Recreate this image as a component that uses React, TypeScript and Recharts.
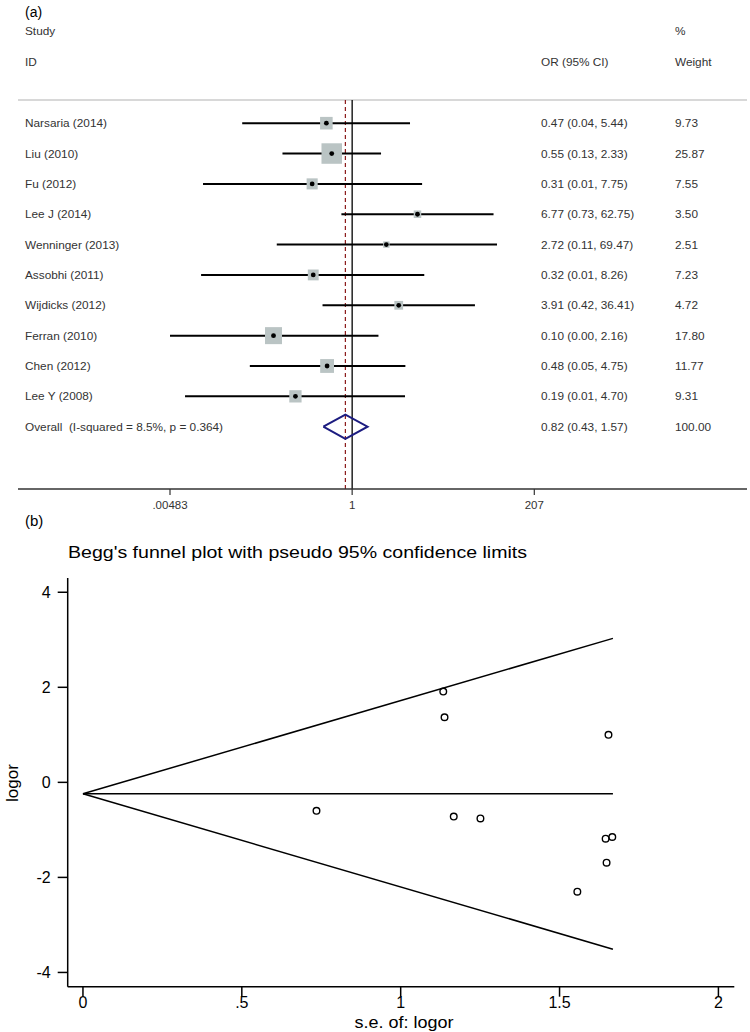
import React from 'react';
import { ScatterChart, Scatter, XAxis, YAxis, ErrorBar, ReferenceLine } from 'recharts';

// (a) forest plot
const studies = ['Narsaria (2014)', 'Liu (2010)', 'Fu (2012)', 'Lee J (2014)', 'Wenninger (2013)', 'Assobhi (2011)', 'Wijdicks (2012)', 'Ferran (2010)', 'Chen (2012)', 'Lee Y (2008)'];
const oddsRatio = [0.47, 0.55, 0.31, 6.77, 2.72, 0.32, 3.91, 0.1, 0.48, 0.19];
const ciLow = [0.04, 0.13, 0.0127, 0.73, 0.11, 0.012, 0.42, 0.00483, 0.05, 0.0075];
const ciHigh = [5.44, 2.33, 7.75, 62.75, 69.47, 8.26, 36.41, 2.16, 4.75, 4.7];
const weights = [9.73, 25.87, 7.55, 3.5, 2.51, 7.23, 4.72, 17.8, 11.77, 9.31];
const overallLabel = 'Overall  (I-squared = 8.5%, p = 0.364)';
const overallOr = 0.82;
const overallLow = 0.43;
const overallHigh = 1.57;
const overallWeight = 100;
const forestTicks = [0.00483, 1, 207];
const forestTickLabels = ['.00483', '1', '207'];

// (b) funnel plot
const funnelSe = [1.134, 1.138, 1.654, 0.735, 1.167, 1.251, 1.645, 1.666, 1.648, 1.556];
const funnelLogor = [1.91, 1.37, 1.0, -0.6, -0.72, -0.76, -1.185, -1.15, -1.69, -2.3];
const pooledLogor = -0.24;
const maxSe = 1.668;
const upperLimitEnd = 3.03;
const lowerLimitEnd = -3.51;
const funnelXTicks = [0, 0.5, 1, 1.5, 2];
const funnelXTickLabels = ['0', '.5', '1', '1.5', '2'];
const funnelYTicks = [-4, -2, 0, 2, 4];

const FONT = '"Liberation Sans", Arial, sans-serif';
const TEXT = '#333';
const ROW_FONT = 11.8;

const forestRows = studies.map((s, i) => ({
  x: oddsRatio[i],
  y: i,
  w: weights[i],
  err: [oddsRatio[i] - ciLow[i], ciHigh[i] - oddsRatio[i]],
}));
const overallRow = studies.length;
const diamondHalf = 0.4;
const diamond = [
  { x: overallLow, y: overallRow },
  { x: overallOr, y: overallRow - diamondHalf },
  { x: overallHigh, y: overallRow },
  { x: overallOr, y: overallRow + diamondHalf },
  { x: overallLow, y: overallRow },
];

const funnelPts = funnelSe.map((se, i) => ({ x: se, y: funnelLogor[i] }));
const centerLine = [{ x: 0, y: pooledLogor }, { x: maxSe, y: pooledLogor }];
const upperLine = [{ x: 0, y: pooledLogor }, { x: maxSe, y: upperLimitEnd }];
const lowerLine = [{ x: 0, y: pooledLogor }, { x: maxSe, y: lowerLimitEnd }];

const fmt = (v: number) => v.toFixed(2);

const BoxShape = (props: any) => {
  const { cx, cy, payload } = props;
  const side = 20.5 * Math.sqrt(payload.w / 25.87);
  return <rect x={cx - side / 2} y={cy - side / 2} width={side} height={side} fill="#bac4c4" />;
};

const DotShape = (props: any) => <circle cx={props.cx} cy={props.cy} r={2.4} fill="#000" />;

const NoShape = () => <g />;

const HollowCircle = (props: any) => (
  <circle cx={props.cx} cy={props.cy} r={3.3} fill="none" stroke="#000" strokeWidth={1.4} />
);

const ForestRowTick = (props: any) => {
  const i = props.payload.value;
  const isOverall = i === overallRow;
  const label = isOverall ? overallLabel : studies[i];
  const or = isOverall ? overallOr : oddsRatio[i];
  const lo = isOverall ? overallLow : ciLow[i];
  const hi = isOverall ? overallHigh : ciHigh[i];
  const w = isOverall ? overallWeight : weights[i];
  return (
    <g fontSize={ROW_FONT} fill={TEXT} fontFamily={FONT}>
      <text x={25} y={props.y} dominantBaseline="central" style={{ whiteSpace: 'pre' }}>{label}</text>
      <text x={541} y={props.y} dominantBaseline="central">{`${fmt(or)} (${fmt(lo)}, ${fmt(hi)})`}</text>
      <text x={675} y={props.y} dominantBaseline="central">{fmt(w)}</text>
    </g>
  );
};

export default function App() {
  const rowTicks = Array.from({ length: studies.length + 1 }, (_, i) => i);
  return (
    <div style={{ position: 'absolute', left: 0, top: 0, width: 750, height: 1032, background: '#fff', fontFamily: FONT }}>
      <div style={{ position: 'absolute', left: 0, top: 0 }}>
        <ScatterChart width={750} height={515} margin={{ top: 100, right: 3, bottom: 0, left: 0 }}>
          <XAxis
            type="number"
            dataKey="x"
            scale="log"
            domain={[5.64e-5, 1.048e5]}
            allowDataOverflow
            ticks={forestTicks}
            tickFormatter={(v: number) => forestTickLabels[forestTicks.indexOf(v)] ?? String(v)}
            height={26}
            tickSize={6}
            tickMargin={6}
            axisLine={{ stroke: '#333', strokeWidth: 1.5 }}
            tickLine={{ stroke: '#333', strokeWidth: 1.2 }}
            tick={{ fill: TEXT, fontSize: 11.5, fontFamily: FONT }}
          />
          <YAxis
            type="number"
            dataKey="y"
            reversed
            domain={[-0.764, 12.053]}
            allowDataOverflow
            ticks={rowTicks}
            interval={0}
            width={18}
            axisLine={false}
            tickLine={false}
            tick={<ForestRowTick />}
          />
          <ReferenceLine y={-0.764} stroke="#d8d8d8" strokeWidth={2} />
          <ReferenceLine x={1} stroke="#000" strokeWidth={1.3} />
          <ReferenceLine x={overallOr} stroke="#8b1a1a" strokeWidth={1.2} strokeDasharray="4 3" />
          <Scatter data={forestRows} shape={BoxShape} isAnimationActive={false} />
          <Scatter data={forestRows} shape={DotShape} isAnimationActive={false}>
            <ErrorBar dataKey="err" direction="x" width={0} stroke="#000" strokeWidth={2} />
          </Scatter>
          <Scatter
            data={diamond}
            shape={NoShape}
            line={{ stroke: '#1c1c80', strokeWidth: 2 }}
            lineJointType="linear"
            isAnimationActive={false}
          />
        </ScatterChart>
      </div>

      <div style={{ position: 'absolute', left: 0, top: 530 }}>
        <ScatterChart width={750} height={502} margin={{ top: 48, right: 15.7, bottom: 0, left: 0 }}>
          <XAxis
            type="number"
            dataKey="x"
            domain={[-0.048, 2.05]}
            allowDataOverflow
            ticks={funnelXTicks}
            tickFormatter={(v: number) => funnelXTickLabels[funnelXTicks.indexOf(v)] ?? String(v)}
            height={45.3}
            tickSize={10}
            tickMargin={0}
            axisLine={{ stroke: '#000', strokeWidth: 1.5 }}
            tickLine={{ stroke: '#000', strokeWidth: 1.5 }}
            tick={{ fill: '#000', fontSize: 16, fontFamily: FONT }}
          />
          <YAxis
            type="number"
            dataKey="y"
            domain={[-4.3, 4.3]}
            allowDataOverflow
            ticks={funnelYTicks}
            width={67.7}
            tickSize={10}
            tickMargin={7}
            axisLine={{ stroke: '#000', strokeWidth: 1.5 }}
            tickLine={{ stroke: '#000', strokeWidth: 1.5 }}
            tick={{ fill: '#000', fontSize: 16, fontFamily: FONT }}
          />
          <Scatter data={centerLine} shape={NoShape} line={{ stroke: '#000', strokeWidth: 1.5 }} isAnimationActive={false} />
          <Scatter data={upperLine} shape={NoShape} line={{ stroke: '#000', strokeWidth: 1.5 }} isAnimationActive={false} />
          <Scatter data={lowerLine} shape={NoShape} line={{ stroke: '#000', strokeWidth: 1.5 }} isAnimationActive={false} />
          <Scatter data={funnelPts} shape={HollowCircle} isAnimationActive={false} />
        </ScatterChart>
      </div>

      <svg width={750} height={1032} style={{ position: 'absolute', left: 0, top: 0, pointerEvents: 'none' }} fontFamily={FONT}>
        <text x={25} y={12} fontSize={14} fill="#000" dominantBaseline="central">(a)</text>
        <g fontSize={ROW_FONT} fill={TEXT}>
          <text x={25} y={31} dominantBaseline="central">Study</text>
          <text x={25} y={62} dominantBaseline="central">ID</text>
          <text x={541} y={62} dominantBaseline="central">OR (95% CI)</text>
          <text x={675} y={31} dominantBaseline="central">%</text>
          <text x={675} y={62} dominantBaseline="central">Weight</text>
        </g>
        <text x={25} y={520} fontSize={15} fill="#000" dominantBaseline="central">(b)</text>
        <text x={68} y={552} fontSize={17} fill="#000" dominantBaseline="central" textLength={459} lengthAdjust="spacingAndGlyphs">
          Begg's funnel plot with pseudo 95% confidence limits
        </text>
        <text x={12} y={783} fontSize={17} fill="#000" textAnchor="middle" dominantBaseline="central" transform="rotate(-90 12 783)">
          logor
        </text>
        <text x={404} y={1022} fontSize={17} fill="#000" textAnchor="middle" dominantBaseline="central" textLength={99} lengthAdjust="spacingAndGlyphs">
          s.e. of: logor
        </text>
      </svg>
    </div>
  );
}
